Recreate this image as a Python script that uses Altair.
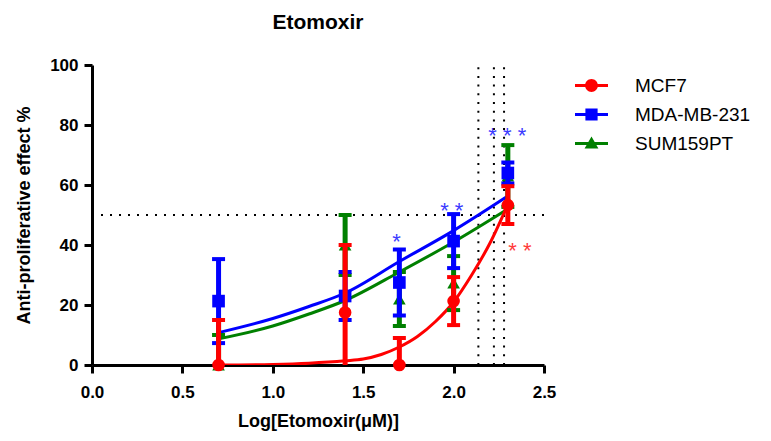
import altair as alt
import pandas as pd

# ---------------- data ----------------
series = ["MCF7", "MDA-MB-231", "SUM159PT"]
colors = ["#ff0000", "#0000ff", "#008000"]
star_colors = ["#ff3b3b", "#3b3bff", "#008000"]
point_shapes = ["circle", "square", "triangle-up"]

dose = [0.7, 1.4, 1.7, 2.0, 2.3]
mcf7_mean = [0.0, 17.5, 0.0, 21.3, 53.3]
mcf7_err = [15.0, 22.5, 9.0, 8.0, 6.3]
mda_mean = [21.3, 23.0, 27.5, 41.3, 64.0]
mda_err = [14.0, 8.0, 11.0, 9.0, 3.5]
sum_mean = [0.0, 40.0, 22.0, 27.3, 63.0]
sum_err = [10.0, 10.0, 9.0, 9.0, 10.3]

fit_x_mcf7 = [0.7, 1.0, 1.2, 1.4, 1.5, 1.6, 1.7, 1.8, 1.9, 2.0, 2.1, 2.2, 2.3]
fit_y_mcf7 = [0.0, 0.2, 0.6, 1.4, 2.0, 3.5, 6.0, 9.5, 14.5, 21.0, 30.0, 40.5, 53.5]
fit_x = [0.7, 1.0, 1.2, 1.4, 1.7, 2.0, 2.3]
fit_y_mda = [10.8, 15.5, 19.5, 24.0, 34.5, 44.8, 56.3]
fit_y_sum = [8.7, 13.0, 17.0, 21.5, 31.0, 41.0, 52.0]

half_max = [50]
ic50_x = [2.137, 2.223, 2.279]

star_x = [1.685, 1.99, 2.297, 2.367]
star_y = [42.8, 53.1, 78.0, 39.7]
star_text = ["*", "* *", "* * *", "* *"]
star_series = ["MDA-MB-231", "MDA-MB-231", "MDA-MB-231", "MCF7"]

x_ticks = [0.0, 0.5, 1.0, 1.5, 2.0, 2.5]
y_ticks = [0, 20, 40, 60, 80, 100]

# ---------------- tables ----------------
means = {"MCF7": mcf7_mean, "MDA-MB-231": mda_mean, "SUM159PT": sum_mean}
errs = {"MCF7": mcf7_err, "MDA-MB-231": mda_err, "SUM159PT": sum_err}
rows = []
for s in series:
    for xv, m, e in zip(dose, means[s], errs[s]):
        rows.append({"series": s, "x": xv, "y": m, "lo": m - e, "hi": m + e})
pts = pd.DataFrame(rows)

fit_rows = []
for xv, yv in zip(fit_x_mcf7, fit_y_mcf7):
    fit_rows.append({"series": "MCF7", "x": xv, "y": yv})
for xv, yv in zip(fit_x, fit_y_mda):
    fit_rows.append({"series": "MDA-MB-231", "x": xv, "y": yv})
for xv, yv in zip(fit_x, fit_y_sum):
    fit_rows.append({"series": "SUM159PT", "x": xv, "y": yv})
fits = pd.DataFrame(fit_rows)

hline = pd.DataFrame({"y": half_max, "x": [x_ticks[0]], "x2": [x_ticks[-1]]})
vlines = pd.DataFrame({"x": ic50_x, "y": [y_ticks[0]] * 3, "y2": [y_ticks[-1]] * 3})
stars = pd.DataFrame({"x": star_x, "y": star_y, "t": star_text, "series": star_series})
star_color_map = dict(zip(series, star_colors))
stars["c"] = stars["series"].map(star_color_map)

FONT = "Liberation Sans"

xscale = alt.Scale(domain=[0, 2.5], nice=False, zero=False)
yscale = alt.Scale(domain=[0, 100], nice=False, zero=False)
x_axis = alt.Axis(values=x_ticks, format=".1f", title="Log[Etomoxir(μM)]",
                  labelPadding=11, titlePadding=12, labelFlush=False)
y_axis = alt.Axis(values=y_ticks, format="d", title="Anti-proliferative effect %",
                  labelPadding=6, titlePadding=16, labelFlush=False)

def X(field="x"):
    return alt.X(f"{field}:Q", scale=xscale, axis=x_axis)

def Y(field="y"):
    return alt.Y(f"{field}:Q", scale=yscale, axis=y_axis)

layers = []

# dotted reference lines
layers.append(
    alt.Chart(hline).mark_rule(color="black", strokeWidth=2, strokeDash=[2, 7]).encode(
        x=X(), x2="x2:Q", y=Y()
    )
)
layers.append(
    alt.Chart(vlines).mark_rule(color="black", strokeWidth=2, strokeDash=[2, 6.7]).encode(
        x=X(), y=Y(), y2="y2:Q"
    )
)

# fitted curves
for s in ["SUM159PT", "MDA-MB-231", "MCF7"]:
    c = colors[series.index(s)]
    layers.append(
        alt.Chart(fits).transform_filter(alt.datum.series == s)
        .mark_line(color=c, strokeWidth=3, interpolate="monotone", clip=True)
        .encode(x=X(), y=Y(), order="x:Q")
    )

# error bars, caps and markers per series (green, blue, red on top)
for s in ["SUM159PT", "MDA-MB-231", "MCF7"]:
    i = series.index(s)
    c = colors[i]
    base = alt.Chart(pts).transform_filter(alt.datum.series == s)
    layers.append(
        base.mark_rule(color=c, strokeWidth=5, clip=True).encode(x=X(), y=Y("lo"), y2="hi:Q")
    )
    layers.append(
        base.mark_tick(color=c, orient="horizontal", size=13, thickness=4, clip=True, opacity=1)
        .encode(x=X(), y=Y("hi"))
    )
    layers.append(
        base.mark_tick(color=c, orient="horizontal", size=13, thickness=4, clip=True, opacity=1)
        .encode(x=X(), y=Y("lo"))
    )
    layers.append(
        base.mark_point(color=c, filled=True, opacity=1, size=160, shape=point_shapes[i])
        .encode(x=X(), y=Y())
    )

# significance asterisks
layers.append(
    alt.Chart(stars).mark_text(font=FONT, fontSize=22, baseline="alphabetic", dy=12, align="center")
    .encode(x=X(), y=Y(), text="t:N", color=alt.Color("c:N", scale=None))
)

# legend (line + marker symbols as custom paths)
legend_paths = [
    "M-1,-0.09H1V0.09H-1Z M-0.39,0A0.39,0.39,0,1,1,0.39,0A0.39,0.39,0,1,1,-0.39,0Z",
    "M-1,-0.09H1V0.09H-1Z M-0.37,-0.37H0.37V0.37H-0.37Z",
    "M-1,-0.09H1V0.09H-1Z M0,-0.42L0.42,0.3H-0.42Z",
]
leg = alt.Legend(title=None, orient="none", legendX=483, legendY=4, symbolSize=1089,
                 symbolStrokeWidth=0, labelFont=FONT, labelFontSize=19, labelColor="black",
                 labelOffset=27, rowPadding=2, padding=0)
leg_df = pd.DataFrame({"series": series, "x": dose[:3], "y": [0.0, 0.0, 0.0]})
layers.append(
    alt.Chart(leg_df).transform_filter("false").mark_point(filled=True, opacity=1, size=1089)
    .encode(
        x=X(), y=Y(),
        color=alt.Color("series:N", scale=alt.Scale(domain=series, range=colors), legend=leg),
        shape=alt.Shape("series:N", scale=alt.Scale(domain=series, range=legend_paths), legend=leg),
    )
)

chart = (
    alt.layer(*layers)
    .properties(
        width=452,
        height=300,
        autosize=alt.AutoSizeParams(type="none"),
        padding={"left": 84, "top": 57, "right": 210, "bottom": 66},
        title=alt.TitleParams(text="Etomoxir", font=FONT, fontSize=21, fontWeight="bold",
                              color="black", anchor="middle", offset=23),
    )
    .configure_view(stroke=None)
    .configure_axis(
        domainColor="black", domainWidth=3, tickColor="black", tickWidth=3, tickSize=8,
        labelFont=FONT, labelFontWeight="bold", labelFontSize=17, labelColor="black",
        titleFont=FONT, titleFontWeight="bold", titleFontSize=18, titleColor="black",
        grid=False,
    )
)

chart.save("out.html", embed_options={"renderer": "svg", "actions": False})
